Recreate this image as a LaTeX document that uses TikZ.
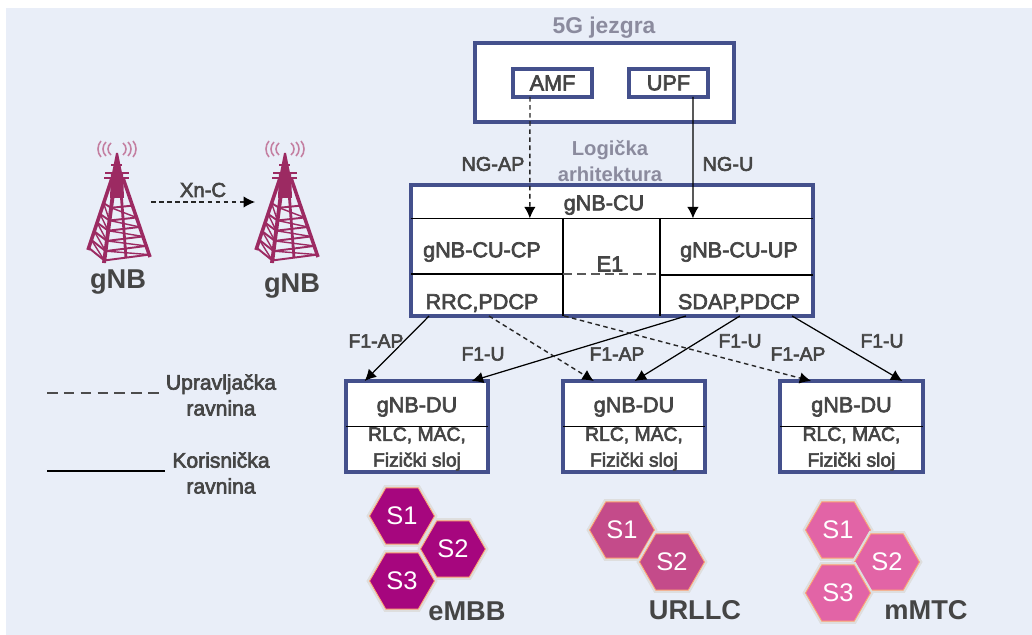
\documentclass[tikz,border=0pt]{standalone}
\usepackage{fontspec}
\setmainfont{Liberation Sans}
\newfontfamily\lblfont[FakeBold=3]{Liberation Sans}
\usetikzlibrary{arrows.meta,calc,shapes.geometric}
\newcommand{\pxu}{0.02cm}
\definecolor{bgcol}{HTML}{E9EEF8}
\definecolor{framecol}{HTML}{44508C}
\definecolor{txtcol}{HTML}{454545}
\definecolor{greycol}{HTML}{8B8B9E}
\definecolor{towercol}{HTML}{9C2A62}
\definecolor{slicea}{HTML}{A6067E}
\definecolor{sliceb}{HTML}{C44B8A}
\definecolor{slicec}{HTML}{E264A6}
\tikzset{
    frame/.style={draw=framecol,line width=2pt,fill=white,inner sep=0pt,outer sep=0pt},
    lbl/.style={font=\lblfont\fontsize{12.3}{14.7}\selectfont,text=txtcol,inner sep=0pt,align=center},
    smalllbl/.style={lbl,font=\lblfont\fontsize{11}{14.7}\selectfont},
    biglbl/.style={lbl,font=\bfseries\fontsize{15.5}{18}\selectfont},
    greylbl/.style={lbl,font=\bfseries\fontsize{11.5}{14.7}\selectfont,text=greycol},
    hexa/.style={regular polygon,regular polygon sides=6,minimum size=65*\pxu,inner sep=0pt,
        draw=orange!40!pink,line width=.5pt,preaction={draw=black!13,line width=3pt},
        text=white,font=\fontsize{14.5}{16}\selectfont},
    ctrlline/.style={line width=.8pt,draw=black!85,dash pattern=on 2.6pt off 2pt},
    userline/.style={line width=.7pt},
    tip/.style={-{Latex[length=6.5pt,width=6.5pt,black]}},
    tower/.pic={
        \fill[towercol] (-1,-110) -- (1,-110) -- (5,-90) -- (-5,-90) -- cycle;
        \fill[towercol] (-6,-90) -- (6,-90) -- (7,-65) -- (-7,-65) -- cycle;
        \draw[towercol,line width=1.2pt] (-6,-98) -- (5,-98);
        \draw[towercol,line width=1.6pt] (-12,-90) -- (12,-90);
        \draw[towercol,line width=1.6pt] (-13,-85) -- (12,-85);
        \draw[towercol,line width=2pt] (-5,-85) -- (-29,-13);
        \draw[towercol,line width=2.2pt] (-2,-85) -- (-13,0);
        \draw[towercol,line width=1.6pt] (3,-85) -- (9,-5);
        \draw[towercol,line width=2pt] (6,-85) -- (33,-6);
        \foreach \t in {.35,.5,.62,.74,.86,.97} {
            \draw[towercol,line width=1.1pt] ({-5-24*\t},{-85+72*\t}) -- ({-2-11*\t},{-85+85*\t})
                -- ({6+27*\t},{-85+79*\t});
        }
        \foreach \t/\u in {.35/.5,.5/.62,.62/.74,.74/.86,.86/.97} {
            \draw[towercol,line width=.8pt] ({-2-11*\t},{-85+85*\t}) -- ({6+27*\u},{-85+79*\u});
            \draw[towercol,line width=.8pt] ({-5-24*\t},{-85+72*\t}) -- ({-2-11*\u},{-85+85*\u});
        }
        \foreach \d/\h in {6/6,11/7,16/8} {
            \draw[towercol!60,line width=.9pt] (-\d,-114-\h) .. controls (-\d-4,-114-\h/2) and (-\d-4,-114+\h/2) .. (-\d,-114+\h);
            \draw[towercol!60,line width=.9pt] (\d,-114-\h) .. controls (\d+4,-114-\h/2) and (\d+4,-114+\h/2) .. (\d,-114+\h);
        }
    }
}
\begin{document}
\begin{tikzpicture}[x=\pxu,y=-\pxu]
    \useasboundingbox (0,0) rectangle (1032,635);
    \fill[bgcol] (6,8) rectangle (1032,635);

    % towers
    \pic (towera) at (117,263) {tower};
    \pic (towerb) at (285,263) {tower};
    \node[biglbl] (gnba) at (118,282) {gNB};
    \node[biglbl] (gnbb) at (292,286) {gNB};
    \coordinate (xnfrom) at (151,202);
    \coordinate (xnto) at (255,202);
    \draw[ctrlline,tip] (xnfrom) -- (xnto);
    \node[lbl,font=\lblfont\fontsize{11.5}{14}\selectfont] (xnc) at (203,190) {Xn-C};

    % legend
    \node[lbl,font=\lblfont\fontsize{12}{14.7}\selectfont] (upr) at (221,395) {Upravljačka\\ravnina};
    \node[lbl,font=\lblfont\fontsize{12}{14.7}\selectfont] (kor) at (221,473) {Korisnička\\ravnina};
    \coordinate (legc) at (47,393);
    \coordinate (legu) at (47,471);
    \draw[line width=.7pt,draw=black!70,dash pattern=on 6pt off 3.6pt] (legc) -- (162,393);
    \draw[userline] (legu) -- (165,471);

    % core
    \node[greylbl,font=\bfseries\fontsize{13}{14.7}\selectfont] (core) at (604,28) {5G jezgra};
    \node[frame,minimum width=259*\pxu,minimum height=79*\pxu] (ng) at (604.5,82.5) {};
    \node[frame,lbl,minimum width=79*\pxu,minimum height=28*\pxu] (amf) at (552.5,83) {AMF};
    \node[frame,lbl,minimum width=79*\pxu,minimum height=28*\pxu] (upf) at (668.5,83) {UPF};

    % central unit
    \node[frame,minimum width=402*\pxu,minimum height=131*\pxu] (cu) at (612,250.5) {};
    \node[lbl,minimum width=402*\pxu,minimum height=33*\pxu] (cutop) at (612,201.5) {};
    \node[lbl] (cuname) at (604,205) {gNB-CU};
    \draw[userline] (cutop.south west) -- (cutop.south east);
    \draw[userline] (563,218) -- (563,316);
    \draw[userline] (660,218) -- (660,316);
    \draw[userline] (411,274) -- (563,274);
    \draw[userline] (660,275) -- (813,275);
    \draw[line width=.7pt,draw=black!65,dash pattern=on 5pt off 3pt] (563,274) -- (660,274);
    \node[lbl] (cucp) at (482,252) {gNB-CU-CP};
    \node[lbl] (cuup) at (739,252) {gNB-CU-UP};
    \node[lbl] (eone) at (610,264) {E1};
    \node[lbl] (rrc) at (482,303) {RRC,PDCP};
    \node[lbl] (sdap) at (739,303) {SDAP,PDCP};

    \node[greylbl] (logic) at (610,161) {Logička\\arhitektura};
    \node[lbl,font=\lblfont\fontsize{11.3}{14}\selectfont] (ngap) at (493,164) {NG-AP};
    \node[lbl,font=\lblfont\fontsize{11.3}{14}\selectfont] (ngu) at (728,164) {NG-U};
    \draw[ctrlline,tip] ($(amf.south west)!.215!(amf.south east)$) -- ($(cutop.south west)!.296!(cutop.south east)$);
    \draw[userline,tip] ($(upf.south west)!.81!(upf.south east)$) -- ($(cutop.south west)!.701!(cutop.south east)$);

    % distributed units
    \foreach \name/\cx in {dua/417,dub/634,duc/851.5} {
        \node[frame,minimum width=142.5*\pxu,minimum height=91*\pxu] (\name) at (\cx,426.5) {};
        \draw[userline] (\name.west) -- (\name.east);
        \node[lbl] (\name name) at (\cx,407) {gNB-DU};
        \node[smalllbl] (\name text) at (\cx,449) {RLC, MAC,\\Fizički sloj};
    }
    \draw[userline,tip] ($(cu.south west)!.045!(cu.south east)$) -- ($(dua.north west)!.133!(dua.north east)$);
    \draw[userline,tip] ($(cu.south west)!.684!(cu.south east)$) -- ($(dua.north west)!.884!(dua.north east)$);
    \draw[ctrlline,tip] ($(cu.south west)!.194!(cu.south east)$) -- ($(dub.north west)!.218!(dub.north east)$);
    \draw[userline,tip] ($(cu.south west)!.818!(cu.south east)$) -- ($(dub.north west)!.505!(dub.north east)$);
    \draw[ctrlline,tip] ($(cu.south west)!.381!(cu.south east)$) -- ($(duc.north west)!.217!(duc.north east)$);
    \draw[userline,tip] ($(cu.south west)!.948!(cu.south east)$) -- ($(duc.north west)!.857!(duc.north east)$);
    \node[smalllbl] (fa) at (376,341) {F1-AP};
    \node[smalllbl] (fb) at (483,354) {F1-U};
    \node[smalllbl] (fc) at (617,354) {F1-AP};
    \node[smalllbl] (fd) at (740,341) {F1-U};
    \node[smalllbl] (fe) at (798,354) {F1-AP};
    \node[smalllbl] (ff) at (882,341) {F1-U};

    % slices
    \node[hexa,fill=slicea] (ea) at (402,516) {S1};
    \node[hexa,fill=slicea] (eb) at (453,549) {S2};
    \node[hexa,fill=slicea] (ec) at (402,581) {S3};
    \node[hexa,fill=sliceb] (ua) at (622,530) {S1};
    \node[hexa,fill=sliceb] (ub) at (672,562) {S2};
    \node[hexa,fill=slicec] (ma) at (838,530) {S1};
    \node[hexa,fill=slicec] (mb) at (887,562) {S2};
    \node[hexa,fill=slicec] (mc) at (838,593) {S3};
    \node[biglbl] (embb) at (467,611) {eMBB};
    \node[biglbl] (urllc) at (695,610) {URLLC};
    \node[biglbl] (mmtc) at (926,610) {mMTC};
\end{tikzpicture}
\end{document}
